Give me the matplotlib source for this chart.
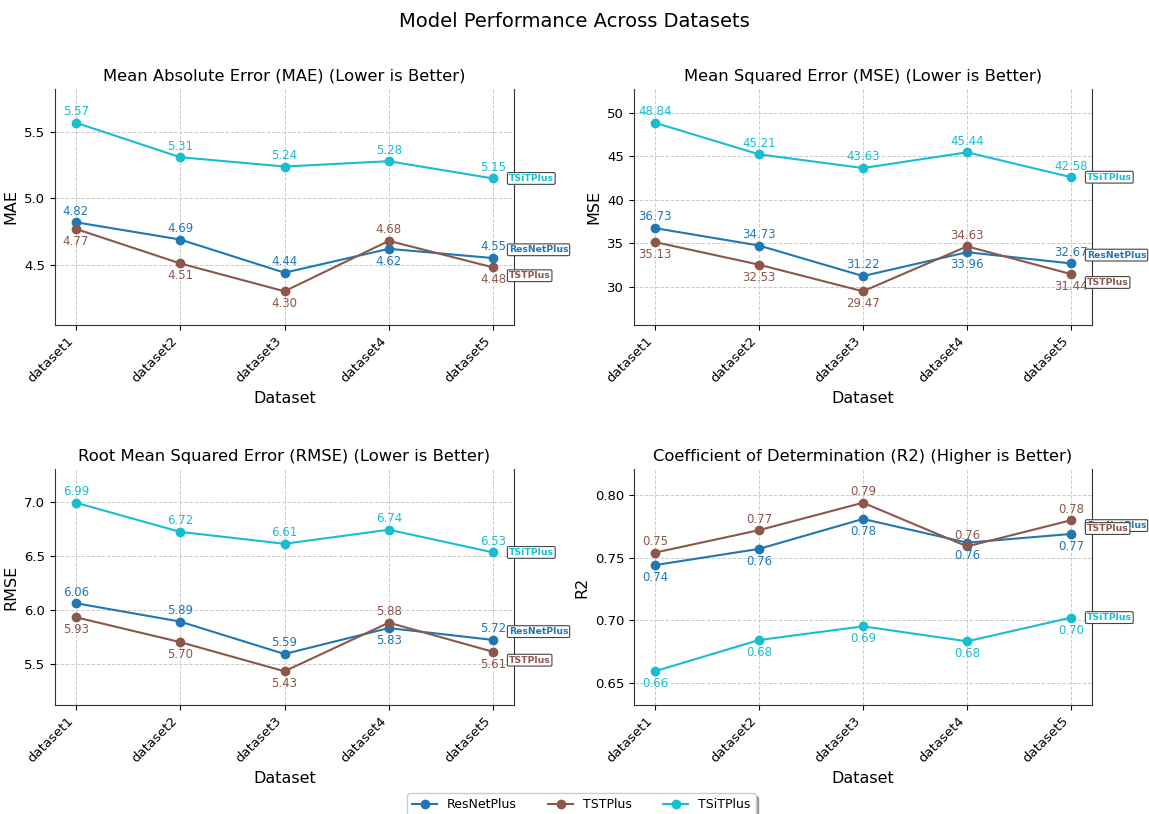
import numpy as np
import matplotlib
matplotlib.use("Agg")
import matplotlib.pyplot as plt
from matplotlib.ticker import MaxNLocator

# data
datasets = ["dataset1", "dataset2", "dataset3", "dataset4", "dataset5"]
models = ["ResNetPlus", "TSTPlus", "TSiTPlus"]
colors = ["#1f77b4", "#8c564b", "#17becf"]

mae_resnet = [4.82, 4.69, 4.44, 4.62, 4.55]
mae_tst = [4.77, 4.51, 4.30, 4.68, 4.48]
mae_tsit = [5.57, 5.31, 5.24, 5.28, 5.15]

mse_resnet = [36.73, 34.73, 31.22, 33.96, 32.67]
mse_tst = [35.13, 32.53, 29.47, 34.63, 31.44]
mse_tsit = [48.84, 45.21, 43.63, 45.44, 42.58]

rmse_resnet = [6.06, 5.89, 5.59, 5.83, 5.72]
rmse_tst = [5.93, 5.70, 5.43, 5.88, 5.61]
rmse_tsit = [6.99, 6.72, 6.61, 6.74, 6.53]

r2_resnet = [0.744, 0.757, 0.781, 0.762, 0.769]
r2_tst = [0.754, 0.772, 0.794, 0.759, 0.780]
r2_tsit = [0.659, 0.684, 0.695, 0.683, 0.702]

panels = [
    ("Mean Absolute Error (MAE) (Lower is Better)", "MAE", [mae_resnet, mae_tst, mae_tsit]),
    ("Mean Squared Error (MSE) (Lower is Better)", "MSE", [mse_resnet, mse_tst, mse_tsit]),
    ("Root Mean Squared Error (RMSE) (Lower is Better)", "RMSE", [rmse_resnet, rmse_tst, rmse_tsit]),
    ("Coefficient of Determination (R2) (Higher is Better)", "R2", [r2_resnet, r2_tst, r2_tsit]),
]

W, H = 1149, 814
fig = plt.figure(figsize=(W / 100, H / 100), dpi=100)
boxes = [(55, 89, 514, 325), (634, 89, 1092, 325), (55, 469, 514, 705), (634, 469, 1092, 705)]
axes = [fig.add_axes([l / W, 1 - b / H, (r - l) / W, (b - t) / H]) for l, t, r, b in boxes]

x = np.arange(len(datasets))

for ax, (title, ylab, series) in zip(axes, panels):
    for name, vals, c in zip(models, series, colors):
        ax.plot(x, vals, marker="o", color=c, label=name, linewidth=1.5, markersize=6)

    # value labels: compare ResNet/TST, TSiT above only when it's the top one
    for i in range(len(x)):
        r, t, s = series[0][i], series[1][i], series[2][i]
        r_up = round(r, 2) > round(t, 2)
        s_up = s >= max(r, t)
        for vals, c, up in zip(series, colors, [r_up, not r_up, s_up]):
            ax.annotate(f"{vals[i]:.2f}", (x[i], vals[i]),
                        xytext=(0, 8 if up else -9), textcoords="offset points",
                        ha="center", va="center", fontsize=8.5, color=c)

    # model name tags at the right end
    for name, vals, c, dy in zip(models, series, colors, [6, -6, 0]):
        ax.annotate(name, (x[-1] + 0.15, vals[-1]), xytext=(0, dy), textcoords="offset points",
                    ha="left", va="center", fontsize=6.7, fontweight="bold", color=c,
                    annotation_clip=False,
                    bbox=dict(boxstyle="round,pad=0.15", fc="white", ec="#444444", lw=0.8))

    allv = np.concatenate(series)
    rng = allv.max() - allv.min()
    ax.set_ylim(allv.min() - 0.2 * rng, allv.max() + 0.2 * rng)
    ax.yaxis.set_major_locator(MaxNLocator(nbins=6, steps=[1, 2, 2.5, 5, 10]))
    ax.set_xlim(-0.2, 4.2)
    ax.set_xticks(x)
    ax.set_xticklabels(datasets, rotation=45, ha="right", fontsize=9.5)
    ax.tick_params(axis="y", labelsize=9.5)
    ax.set_title(title, fontsize=11.8)
    ax.set_xlabel("Dataset", fontsize=11.5)
    ax.set_ylabel(ylab, fontsize=11.5)
    ax.grid(True, linestyle="--", color="#cccccc", linewidth=0.7)
    ax.spines["top"].set_visible(False)
    for sp in ["left", "bottom", "right"]:
        ax.spines[sp].set_color("#333333")

fig.suptitle("Model Performance Across Datasets", fontsize=14, y=0.985)

handles, labels = axes[0].get_legend_handles_labels()
fig.legend(handles, labels, loc="upper center", bbox_to_anchor=(0.506, 0.033),
           ncol=3, fontsize=9, frameon=True, shadow=True, columnspacing=2.5)

fig.savefig("out.png", dpi=100)
